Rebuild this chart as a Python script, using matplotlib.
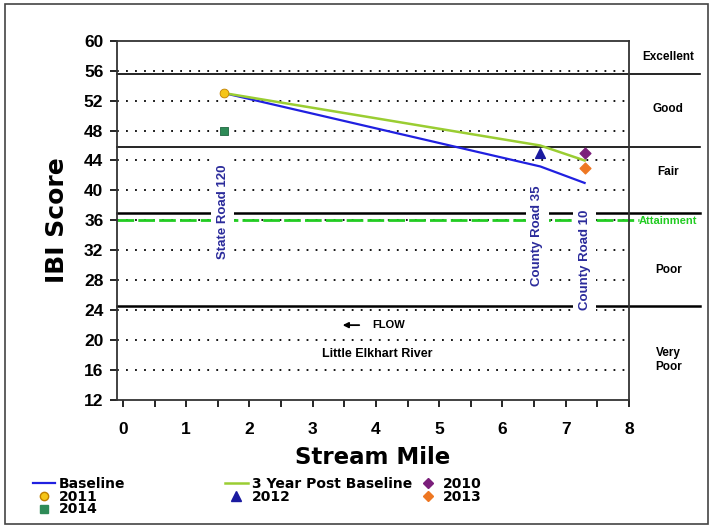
import matplotlib.pyplot as plt
import matplotlib.transforms as mtransforms
from matplotlib.lines import Line2D
from matplotlib.patches import Rectangle

# stream miles of the sites and IBI scores
sites = [1.6, 6.6, 7.3]
baseline = [53, 43.2, 41]
post_baseline = [53, 46, 44]

yr2011_x, yr2011_y = [1.6], [53]
yr2014_x, yr2014_y = [1.6], [48]
yr2012_x, yr2012_y = [6.6], [45]
yr2010_x, yr2010_y = [7.3], [45]
yr2013_x, yr2013_y = [7.3], [43]

# class boundaries and labels
band_limits = [55.5, 45.8, 37, 24.5]
attainment = 36
class_names = ['Excellent', 'Good', 'Fair', 'Attainment', 'Poor', 'Very\nPoor']
class_y = [57.8, 50.9, 42.5, 35.9, 29.4, 17.3]

roads = ['State Road 120', 'County Road 35', 'County Road 10']
road_x = [1.58, 6.55, 7.3]
road_y = [37.2, 34.0, 30.7]

plt.rcParams['font.family'] = ['Liberation Sans', 'DejaVu Sans']

fig = plt.figure(figsize=(7.13, 5.29), dpi=100)
ax = fig.add_axes([0.1645, 0.2439, 0.7175, 0.6791])

ax.set_xlim(-0.09, 8)
ax.set_ylim(12, 60)

# dotted grid
for v in range(16, 60, 4):
    ax.axhline(v, color='black', lw=1.3, ls=(0, (1, 4)), zorder=1)

trans = mtransforms.blended_transform_factory(ax.transAxes, ax.transData)
for b in band_limits:
    lw = 1.8 if b in (37, 24.5) else 1.2
    ax.plot([0, 1.14], [b, b], color='black', lw=lw, transform=trans,
            clip_on=False, zorder=2)
ax.plot([0, 1.02], [attainment, attainment], color='#22cc22', lw=2,
        ls=(0, (6, 1.5)), transform=trans, clip_on=False, zorder=2)

for name, y in zip(class_names, class_y):
    color = '#22cc22' if name == 'Attainment' else 'black'
    size = 8 if name == 'Attainment' else 8.5
    ax.text(1.077, y, name, transform=trans, ha='center', va='center',
            fontsize=size, fontweight='bold', color=color)

# lines
ax.plot(sites, baseline, color='#2020e0', lw=1.6, zorder=4)
ax.plot(sites, post_baseline, color='#9acd32', lw=1.8, zorder=4)

# yearly points
ax.scatter(yr2011_x, yr2011_y, marker='o', s=40, color='#f5c518', edgecolor='#c08000', lw=0.6, zorder=5)
ax.scatter(yr2014_x, yr2014_y, marker='s', s=40, color='#2e8b57', edgecolor='#1f6640', lw=0.6, zorder=5)
ax.scatter(yr2012_x, yr2012_y, marker='^', s=50, color='#1a1aa0', zorder=5)
ax.scatter(yr2010_x, yr2010_y, marker='D', s=30, color='#7b1f7b', zorder=5)
ax.scatter(yr2013_x, yr2013_y, marker='D', s=30, color='#ee7722', zorder=5)

# road labels
for name, x, y in zip(roads, road_x, road_y):
    ax.text(x, y, name, rotation=90, ha='center', va='center', fontsize=9.5,
            fontweight='bold', color='#2b2b9b', zorder=3,
            bbox=dict(facecolor='white', edgecolor='none', pad=4))

ax.annotate('', xy=(3.43, 22), xytext=(3.78, 22),
            arrowprops=dict(arrowstyle='-|>', color='black', lw=1.3, mutation_scale=8))
ax.text(3.94, 22, 'FLOW', ha='left', va='center', fontsize=8, fontweight='bold')
ax.text(4.02, 18.1, 'Little Elkhart River', ha='center', va='center', fontsize=9, fontweight='bold')

# axes styling
ax.set_xticks([i * 0.5 for i in range(17)])
ax.set_xticklabels([str(i // 2) if i % 2 == 0 else '' for i in range(17)])
ax.set_yticks(range(12, 61, 4))
ax.tick_params(axis='both', direction='out', length=5, width=1.2, labelsize=12.5)
ax.tick_params(axis='x', pad=10.5)
ax.tick_params(axis='y', pad=5)
for lab in ax.get_xticklabels() + ax.get_yticklabels():
    lab.set_fontweight('bold')
for sp in ax.spines.values():
    sp.set_linewidth(1.3)
    sp.set_color('#333333')

ax.set_xlabel('Stream Mile', fontsize=16.5, fontweight='bold', family='DejaVu Sans', labelpad=7)
ax.set_ylabel('IBI Score', fontsize=18, fontweight='bold', family='DejaVu Sans', labelpad=11)

# legend in three columns
leg_font = dict(family='DejaVu Sans', weight='bold', size=10)
cols = [
    ([Line2D([], [], color='#2020e0', lw=1.6),
      Line2D([], [], marker='o', ls='', color='#f5c518', markeredgecolor='#c08000', ms=6),
      Line2D([], [], marker='s', ls='', color='#2e8b57', ms=6)],
     ['Baseline', '2011', '2014'], 0.046),
    ([Line2D([], [], color='#9acd32', lw=1.8),
      Line2D([], [], marker='^', ls='', color='#1a1aa0', ms=7)],
     ['3 Year Post Baseline', '2012'], 0.316),
    ([Line2D([], [], marker='D', ls='', color='#7b1f7b', ms=5),
      Line2D([], [], marker='D', ls='', color='#ee7722', ms=5)],
     ['2010', '2013'], 0.584),
]
for handles, labels, x in cols:
    fig.legend(handles, labels, loc='upper left', bbox_to_anchor=(x, 0.098),
               frameon=False, prop=leg_font, handlelength=1.6, handletextpad=0.3,
               labelspacing=-0.1, borderpad=0, borderaxespad=0)

fig.patches.append(Rectangle((0.007, 0.009), 0.986, 0.984, transform=fig.transFigure,
                             fill=False, edgecolor='#444444', lw=1.2))

fig.savefig('out.png', dpi=100)
